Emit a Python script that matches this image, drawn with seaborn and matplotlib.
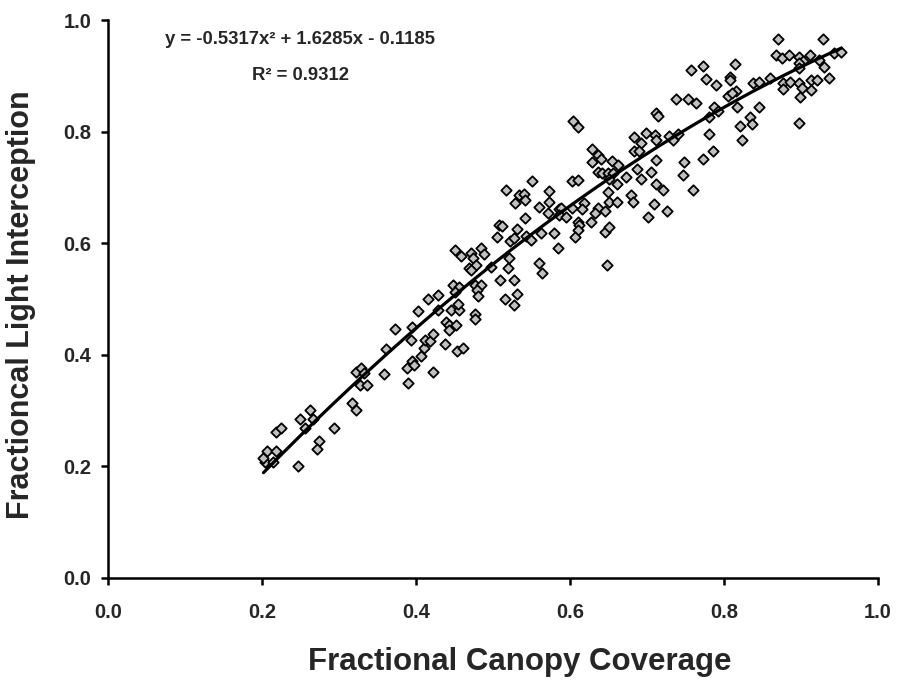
import numpy as np
import pandas as pd
import matplotlib
matplotlib.use("Agg")
import matplotlib.pyplot as plt
import seaborn as sns

# values
canopy = [
    0.204, 0.202, 0.207, 0.218, 0.215, 0.218, 0.225, 0.247, 0.249, 0.263,
    0.266, 0.256, 0.274, 0.271, 0.293, 0.317, 0.322, 0.327, 0.337, 0.322,
    0.328, 0.332, 0.358, 0.361, 0.373, 0.390, 0.388, 0.395, 0.398, 0.395,
    0.393, 0.402, 0.407, 0.410, 0.412, 0.418, 0.422, 0.422, 0.415, 0.429,
    0.428, 0.437, 0.439, 0.443, 0.443, 0.452, 0.445, 0.456, 0.454, 0.448,
    0.456, 0.451, 0.453, 0.461, 0.469, 0.451, 0.459, 0.472, 0.474, 0.478,
    0.472, 0.484, 0.488, 0.476, 0.484, 0.479, 0.481, 0.476, 0.476, 0.497,
    0.505, 0.508, 0.512, 0.509, 0.515, 0.522, 0.527, 0.521, 0.519, 0.527,
    0.531, 0.527, 0.531, 0.541, 0.543, 0.549, 0.528, 0.534, 0.540, 0.542,
    0.517, 0.560, 0.571, 0.573, 0.573, 0.562, 0.579, 0.584, 0.560, 0.563,
    0.586, 0.604, 0.610, 0.629, 0.636, 0.640, 0.628, 0.636, 0.641, 0.649,
    0.655, 0.662, 0.656, 0.651, 0.661, 0.672, 0.687, 0.692, 0.683, 0.692,
    0.699, 0.710, 0.712, 0.683, 0.690, 0.705, 0.712, 0.712, 0.603, 0.610,
    0.551, 0.588, 0.586, 0.595, 0.603, 0.618, 0.616, 0.636, 0.633, 0.646,
    0.649, 0.651, 0.661, 0.679, 0.682, 0.709, 0.701, 0.610, 0.612, 0.627,
    0.610, 0.606, 0.646, 0.651, 0.648, 0.757, 0.772, 0.814, 0.777, 0.790,
    0.808, 0.808, 0.815, 0.805, 0.810, 0.838, 0.845, 0.738, 0.753, 0.763,
    0.787, 0.792, 0.780, 0.817, 0.845, 0.833, 0.836, 0.821, 0.823, 0.781,
    0.785, 0.772, 0.748, 0.746, 0.760, 0.711, 0.714, 0.728, 0.740, 0.733,
    0.721, 0.726, 0.870, 0.928, 0.867, 0.875, 0.884, 0.897, 0.911, 0.903,
    0.897, 0.897, 0.923, 0.930, 0.942, 0.952, 0.859, 0.877, 0.885, 0.877,
    0.897, 0.901, 0.899, 0.913, 0.921, 0.936, 0.913, 0.897,
]
light = [
    0.208, 0.215, 0.228, 0.228, 0.208, 0.261, 0.268, 0.201, 0.285, 0.302,
    0.285, 0.268, 0.246, 0.231, 0.268, 0.313, 0.301, 0.346, 0.346, 0.370,
    0.376, 0.368, 0.366, 0.410, 0.446, 0.349, 0.376, 0.389, 0.382, 0.450,
    0.427, 0.479, 0.398, 0.413, 0.427, 0.424, 0.437, 0.370, 0.500, 0.507,
    0.480, 0.419, 0.459, 0.453, 0.444, 0.453, 0.480, 0.480, 0.492, 0.525,
    0.522, 0.513, 0.407, 0.413, 0.555, 0.588, 0.577, 0.582, 0.573, 0.561,
    0.553, 0.591, 0.581, 0.525, 0.526, 0.517, 0.505, 0.474, 0.464, 0.558,
    0.612, 0.633, 0.631, 0.534, 0.501, 0.604, 0.609, 0.573, 0.555, 0.534,
    0.510, 0.489, 0.625, 0.645, 0.613, 0.606, 0.672, 0.686, 0.688, 0.677,
    0.695, 0.665, 0.655, 0.674, 0.694, 0.618, 0.618, 0.591, 0.564, 0.547,
    0.661, 0.819, 0.809, 0.770, 0.758, 0.752, 0.746, 0.728, 0.726, 0.726,
    0.748, 0.740, 0.726, 0.716, 0.706, 0.719, 0.734, 0.716, 0.791, 0.780,
    0.797, 0.794, 0.786, 0.766, 0.766, 0.728, 0.749, 0.706, 0.712, 0.714,
    0.712, 0.663, 0.651, 0.648, 0.664, 0.673, 0.661, 0.663, 0.654, 0.658,
    0.692, 0.674, 0.674, 0.686, 0.674, 0.671, 0.648, 0.639, 0.633, 0.639,
    0.624, 0.611, 0.621, 0.629, 0.561, 0.910, 0.918, 0.921, 0.894, 0.884,
    0.898, 0.892, 0.873, 0.864, 0.869, 0.887, 0.889, 0.858, 0.858, 0.851,
    0.844, 0.838, 0.827, 0.845, 0.844, 0.826, 0.814, 0.810, 0.786, 0.796,
    0.766, 0.752, 0.746, 0.722, 0.695, 0.834, 0.828, 0.792, 0.796, 0.786,
    0.695, 0.658, 0.967, 0.967, 0.937, 0.933, 0.937, 0.934, 0.937, 0.927,
    0.924, 0.914, 0.929, 0.917, 0.941, 0.943, 0.897, 0.888, 0.889, 0.876,
    0.888, 0.878, 0.863, 0.892, 0.892, 0.897, 0.875, 0.816,
]

# trendline coefficients as printed on the chart
coef = [-0.5317, 1.6285, -0.1185]
r_squared = 0.9312

ticks = [0.0, 0.2, 0.4, 0.6, 0.8, 1.0]
tick_labels = ["0.0", "0.2", "0.4", "0.6", "0.8", "1.0"]

df = pd.DataFrame({"canopy": canopy, "light": light})

sns.set_style("white")
plt.rcParams["font.family"] = ["Liberation Sans", "DejaVu Sans"]
plt.rcParams["font.weight"] = "bold"

fig = plt.figure(figsize=(9.02, 6.81), dpi=100)
ax = fig.add_axes([0.1196, 0.1513, 0.854, 0.819])

sns.scatterplot(data=df, x="canopy", y="light", marker="D", s=28,
                color="#c0c0c0", edgecolor="black", linewidth=1.3, ax=ax, zorder=2)

# fitted polynomial drawn through the sorted x values
xs = np.sort(df["canopy"].values)
ax.plot(xs, np.polyval(coef, xs), color="black", lw=2.3, zorder=3)

ax.set_xlim(0, 1.0)
ax.set_ylim(0, 1.0)
ax.set_xticks(ticks)
ax.set_xticklabels(tick_labels, fontsize=14.5, fontweight="bold")
ax.set_yticks(ticks)
ax.set_yticklabels(tick_labels, fontsize=14.5, fontweight="bold")
ax.tick_params(axis="both", direction="out", length=5, width=1.8, color="black",
               bottom=True, left=True)
ax.tick_params(axis="x", pad=13)
ax.tick_params(axis="y", pad=7)

for side in ["top", "right"]:
    ax.spines[side].set_visible(False)
for side in ["left", "bottom"]:
    ax.spines[side].set_color("black")
    ax.spines[side].set_linewidth(1.8)

ax.set_xlabel("Fractional Canopy Coverage", fontsize=22.5, fontweight="bold")
ax.set_ylabel("Fractioncal Light Interception", fontsize=22, fontweight="bold")
ax.xaxis.set_label_coords(0.535, -0.124)
ax.yaxis.set_label_coords(-0.093, 0.49)

ax.text(0.25, 0.965, "y = -0.5317x² + 1.6285x - 0.1185", ha="center", va="center",
        fontsize=13.3, fontweight="bold", transform=ax.transAxes)
ax.text(0.25, 0.9, f"R² = {r_squared}", ha="center", va="center",
        fontsize=13.3, fontweight="bold", transform=ax.transAxes)

fig.savefig("out.png", dpi=100)
